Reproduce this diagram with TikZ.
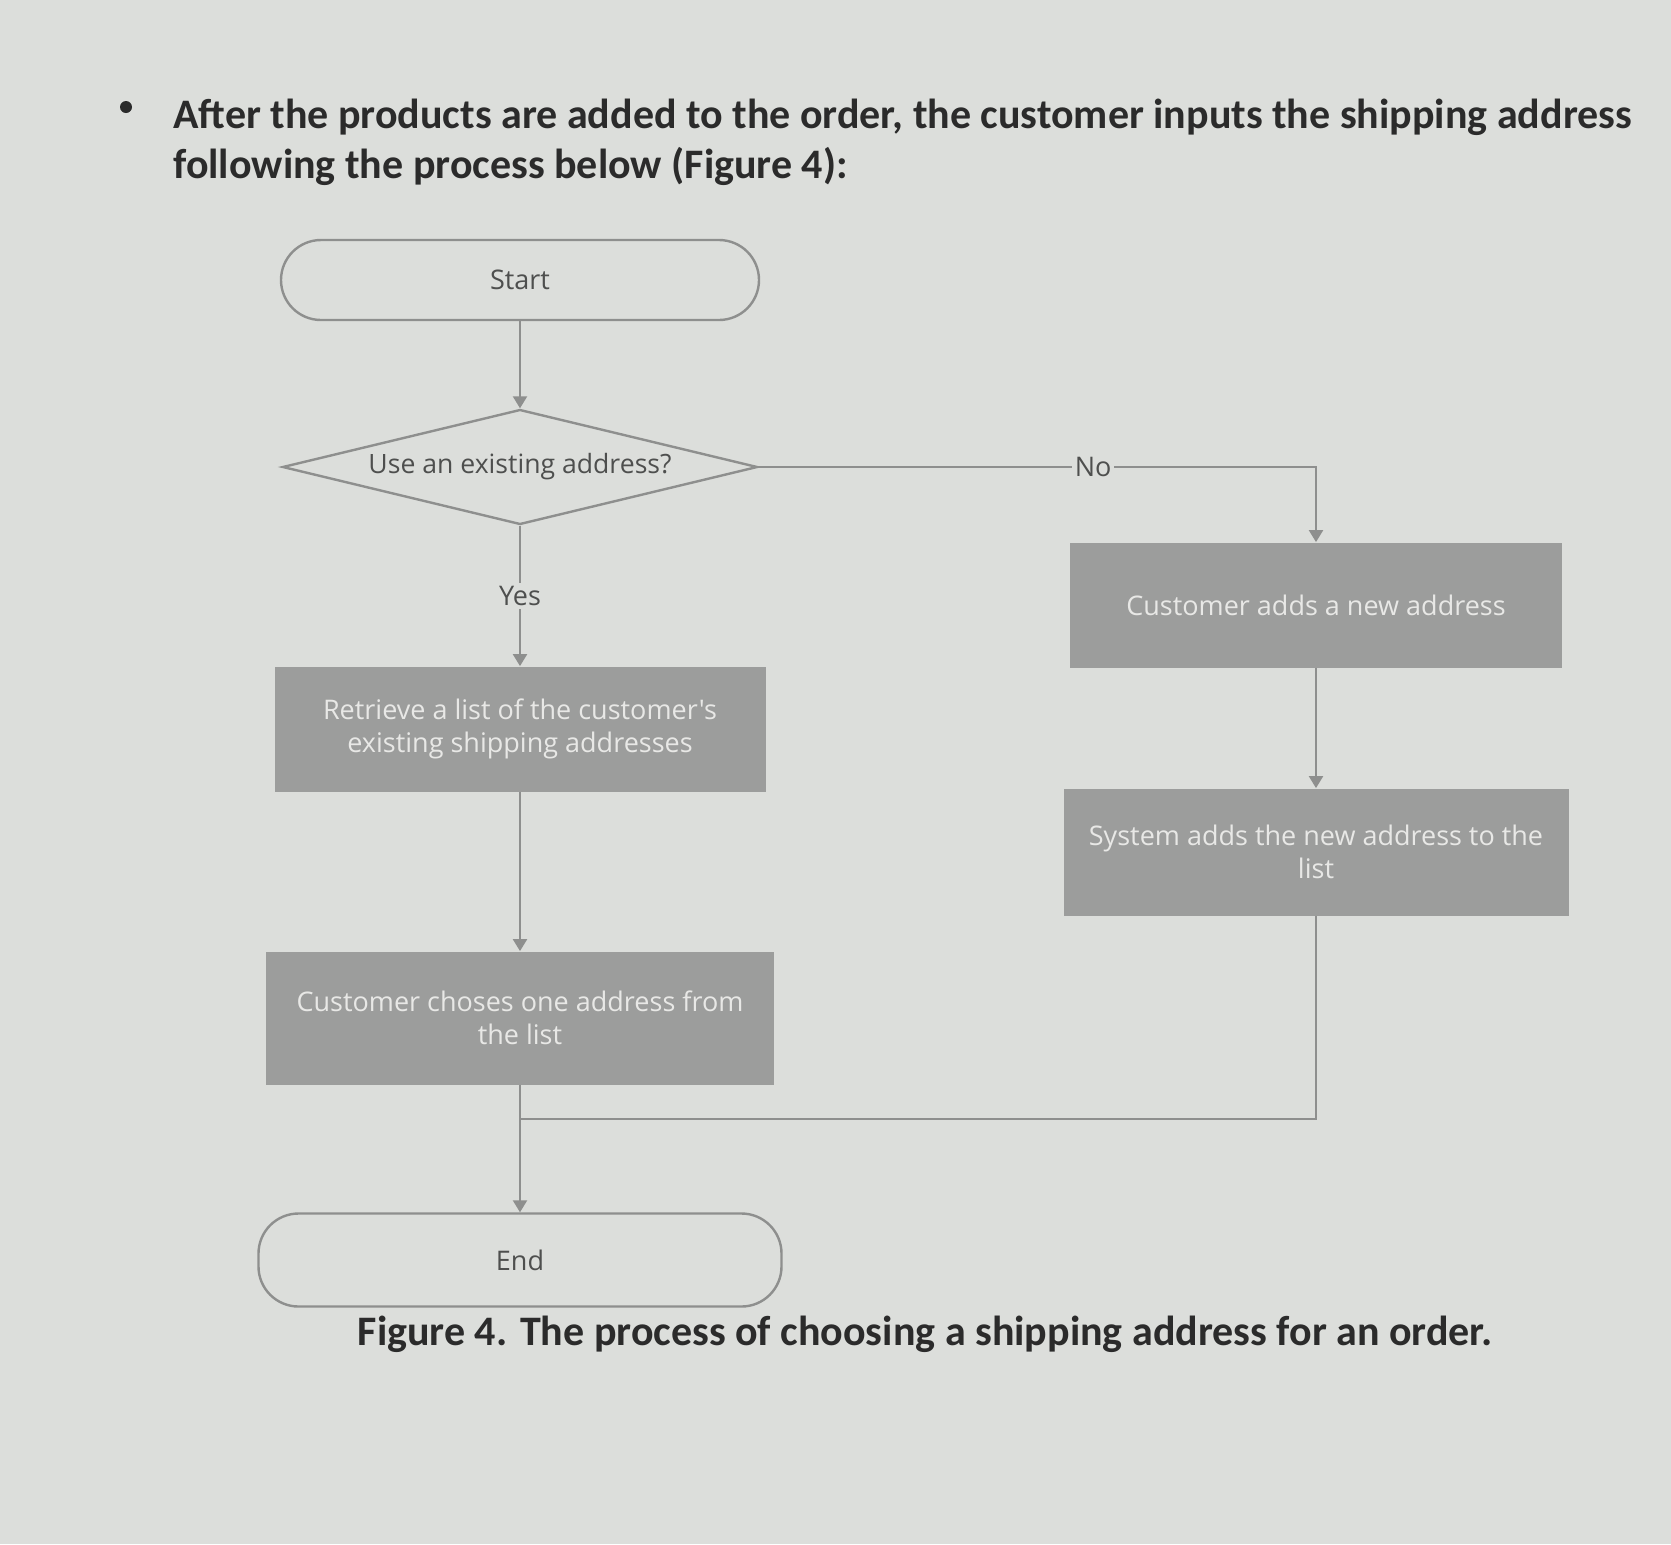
\documentclass[tikz,border=0pt]{standalone}
\usepackage{fontspec}
\setmainfont{Carlito}
\newfontfamily\diagfont{Open Sans}
\usetikzlibrary{shapes.geometric,arrows.meta}
\definecolor{paper}{HTML}{DCDEDB}
\definecolor{boxfill}{HTML}{9C9D9C}
\definecolor{boxtext}{HTML}{E8E8E6}
\definecolor{linegray}{HTML}{8E8F8E}
\definecolor{ink}{HTML}{2B2B2B}
\definecolor{dtext}{HTML}{4E4F4E}
\tikzset{
  terminal/.style={draw=linegray, line width=1.2pt, rounded corners=20pt, fill=paper,
    font=\diagfont\fontsize{13.5}{16}\selectfont, text=dtext, inner sep=0pt},
  decision/.style={draw=linegray, line width=1.2pt, diamond, aspect=4.1, inner sep=0pt,
    minimum width=237.5pt, minimum height=57.5pt, fill=paper,
    font=\diagfont\fontsize{13.3}{16}\selectfont, text=dtext},
  procbox/.style={fill=boxfill, draw=none, inner sep=0pt, align=center,
    font=\diagfont\fontsize{13.5}{16.5}\selectfont, text=boxtext},
  flow/.style={draw=linegray, line width=1.1pt, -{Triangle[width=7pt,length=6pt]}},
  plain/.style={draw=linegray, line width=1.1pt},
  lbl/.style={fill=paper, inner sep=1.5pt, font=\diagfont\fontsize{13.5}{16}\selectfont, text=dtext},
  bodytext/.style={font=\fontsize{21}{25}\selectfont\bfseries, text=ink, inner sep=0pt}
}
\begin{document}
\begin{tikzpicture}[x=0.5pt, y=-0.5pt]
\fill[paper] (0,0) rectangle (1671,1544);
\useasboundingbox (0,0) rectangle (1671,1544);
% intro text
\fill[ink] (126,107) circle (6);
\node[bodytext, anchor=base west] (l1) at (173,128) {After the products are added to the order, the customer inputs the shipping address};
\node[bodytext, anchor=base west] (l2) at (173,178) {following the process below (Figure 4):};
% nodes
\node[terminal, minimum width=239pt, minimum height=40pt] (start) at (520,280) {Start};
\node[decision] (dec) at (520,467) {Use an existing address?};
\node[procbox, minimum width=245.5pt, minimum height=62.5pt] (ret) at (520,729) {Retrieve a list of the customer's\\existing shipping addresses};
\node[procbox, minimum width=254pt, minimum height=66.5pt] (cho) at (520,1018) {Customer choses one address from\\the list};
\node[terminal, minimum width=261.5pt, minimum height=46.5pt] (end) at (520,1260) {End};
\node[procbox, minimum width=246pt, minimum height=62.5pt] (add) at (1316,605) {Customer adds a new address};
\node[procbox, minimum width=252.5pt, minimum height=63.5pt] (sys) at (1316,852) {System adds the new address to the\\list};
\coordinate (j) at (520,1119);
% connectors
\draw[flow] (start) -- (dec);
\draw[flow] (dec.south) -- node[lbl, pos=0.5] {Yes} (ret.north);
\draw[flow] (dec.east) -| node[lbl, pos=0.3] {No} (add.north);
\draw[flow] (ret) -- (cho);
\draw[flow] (add) -- (sys);
\draw[flow] (cho.south) -- (end.north);
\draw[plain] (sys.south) |- (j);
% caption
\node[bodytext, anchor=base] (cap) at (925,1345) {Figure 4. The process of choosing a shipping address for an order.};
\end{tikzpicture}
\end{document}
